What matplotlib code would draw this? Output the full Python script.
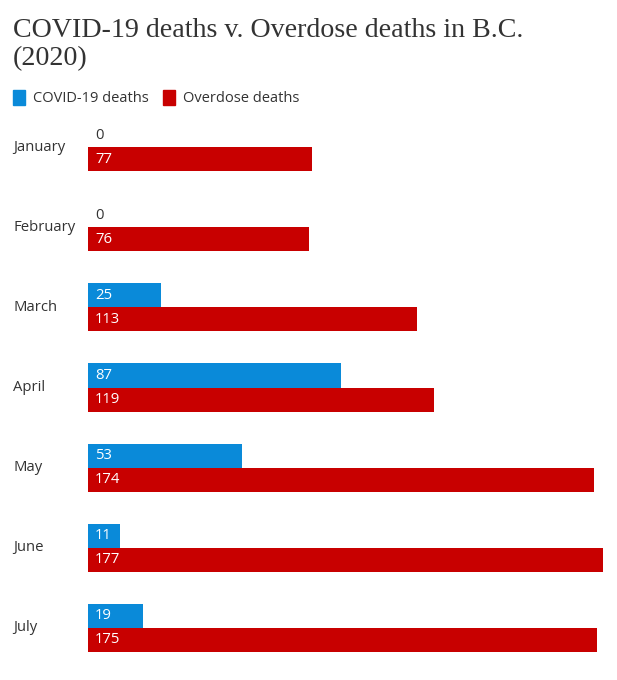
import matplotlib.pyplot as plt
from matplotlib.patches import Rectangle

months = ['January', 'February', 'March', 'April', 'May', 'June', 'July']
covid_deaths = [0, 0, 25, 87, 53, 11, 19]
overdose_deaths = [77, 76, 113, 119, 174, 177, 175]

blue = '#0a8ad9'
red = '#c80000'
text_col = '#333333'
sans = ['Open Sans', 'DejaVu Sans']

W, H = 617, 680
fig = plt.figure(figsize=(W / 100, H / 100), dpi=100)

# axes placed in pixel terms: bars start at x=88, 177 reaches x=603
ax = fig.add_axes([88 / W, (H - 652) / H, (603 - 88) / W, (652 - 123) / H])
ax.set_xlim(0, 177)
ax.set_ylim(6.3, -0.3)
ax.axis('off')

bh = 0.3
ys = list(range(len(months)))
ax.barh([y - bh / 2 for y in ys], covid_deaths, height=bh, color=blue)
ax.barh([y + bh / 2 for y in ys], overdose_deaths, height=bh, color=red)

for y, m, c, o in zip(ys, months, covid_deaths, overdose_deaths):
    ax.text(-75 / 2.91, y, m, ha='left', va='center', fontsize=10.7,
            color=text_col, family=sans)
    ax.text(2.4, y - bh / 2, str(c), ha='left', va='center', fontsize=10.7,
            color='white' if c > 0 else text_col, family=sans)
    ax.text(2.4, y + bh / 2, str(o), ha='left', va='center', fontsize=10.7,
            color='white', family=sans)

# title
fig.text(13 / W, 1 - 18 / H, 'COVID-19 deaths v. Overdose deaths in B.C.\n(2020)',
         ha='left', va='top', fontsize=20.2, color=text_col,
         family=['Liberation Serif', 'DejaVu Serif'], linespacing=1.17)

# legend
for x0, lbl, col in [(13, 'COVID-19 deaths', blue), (163, 'Overdose deaths', red)]:
    fig.patches.append(Rectangle((x0 / W, 1 - 105 / H), 12 / W, 15 / H,
                                 transform=fig.transFigure, color=col))
    fig.text((x0 + 20) / W, 1 - 98 / H, lbl, ha='left', va='center',
             fontsize=10.5, color=text_col, family=sans)

plt.savefig('out.png', dpi=100)
